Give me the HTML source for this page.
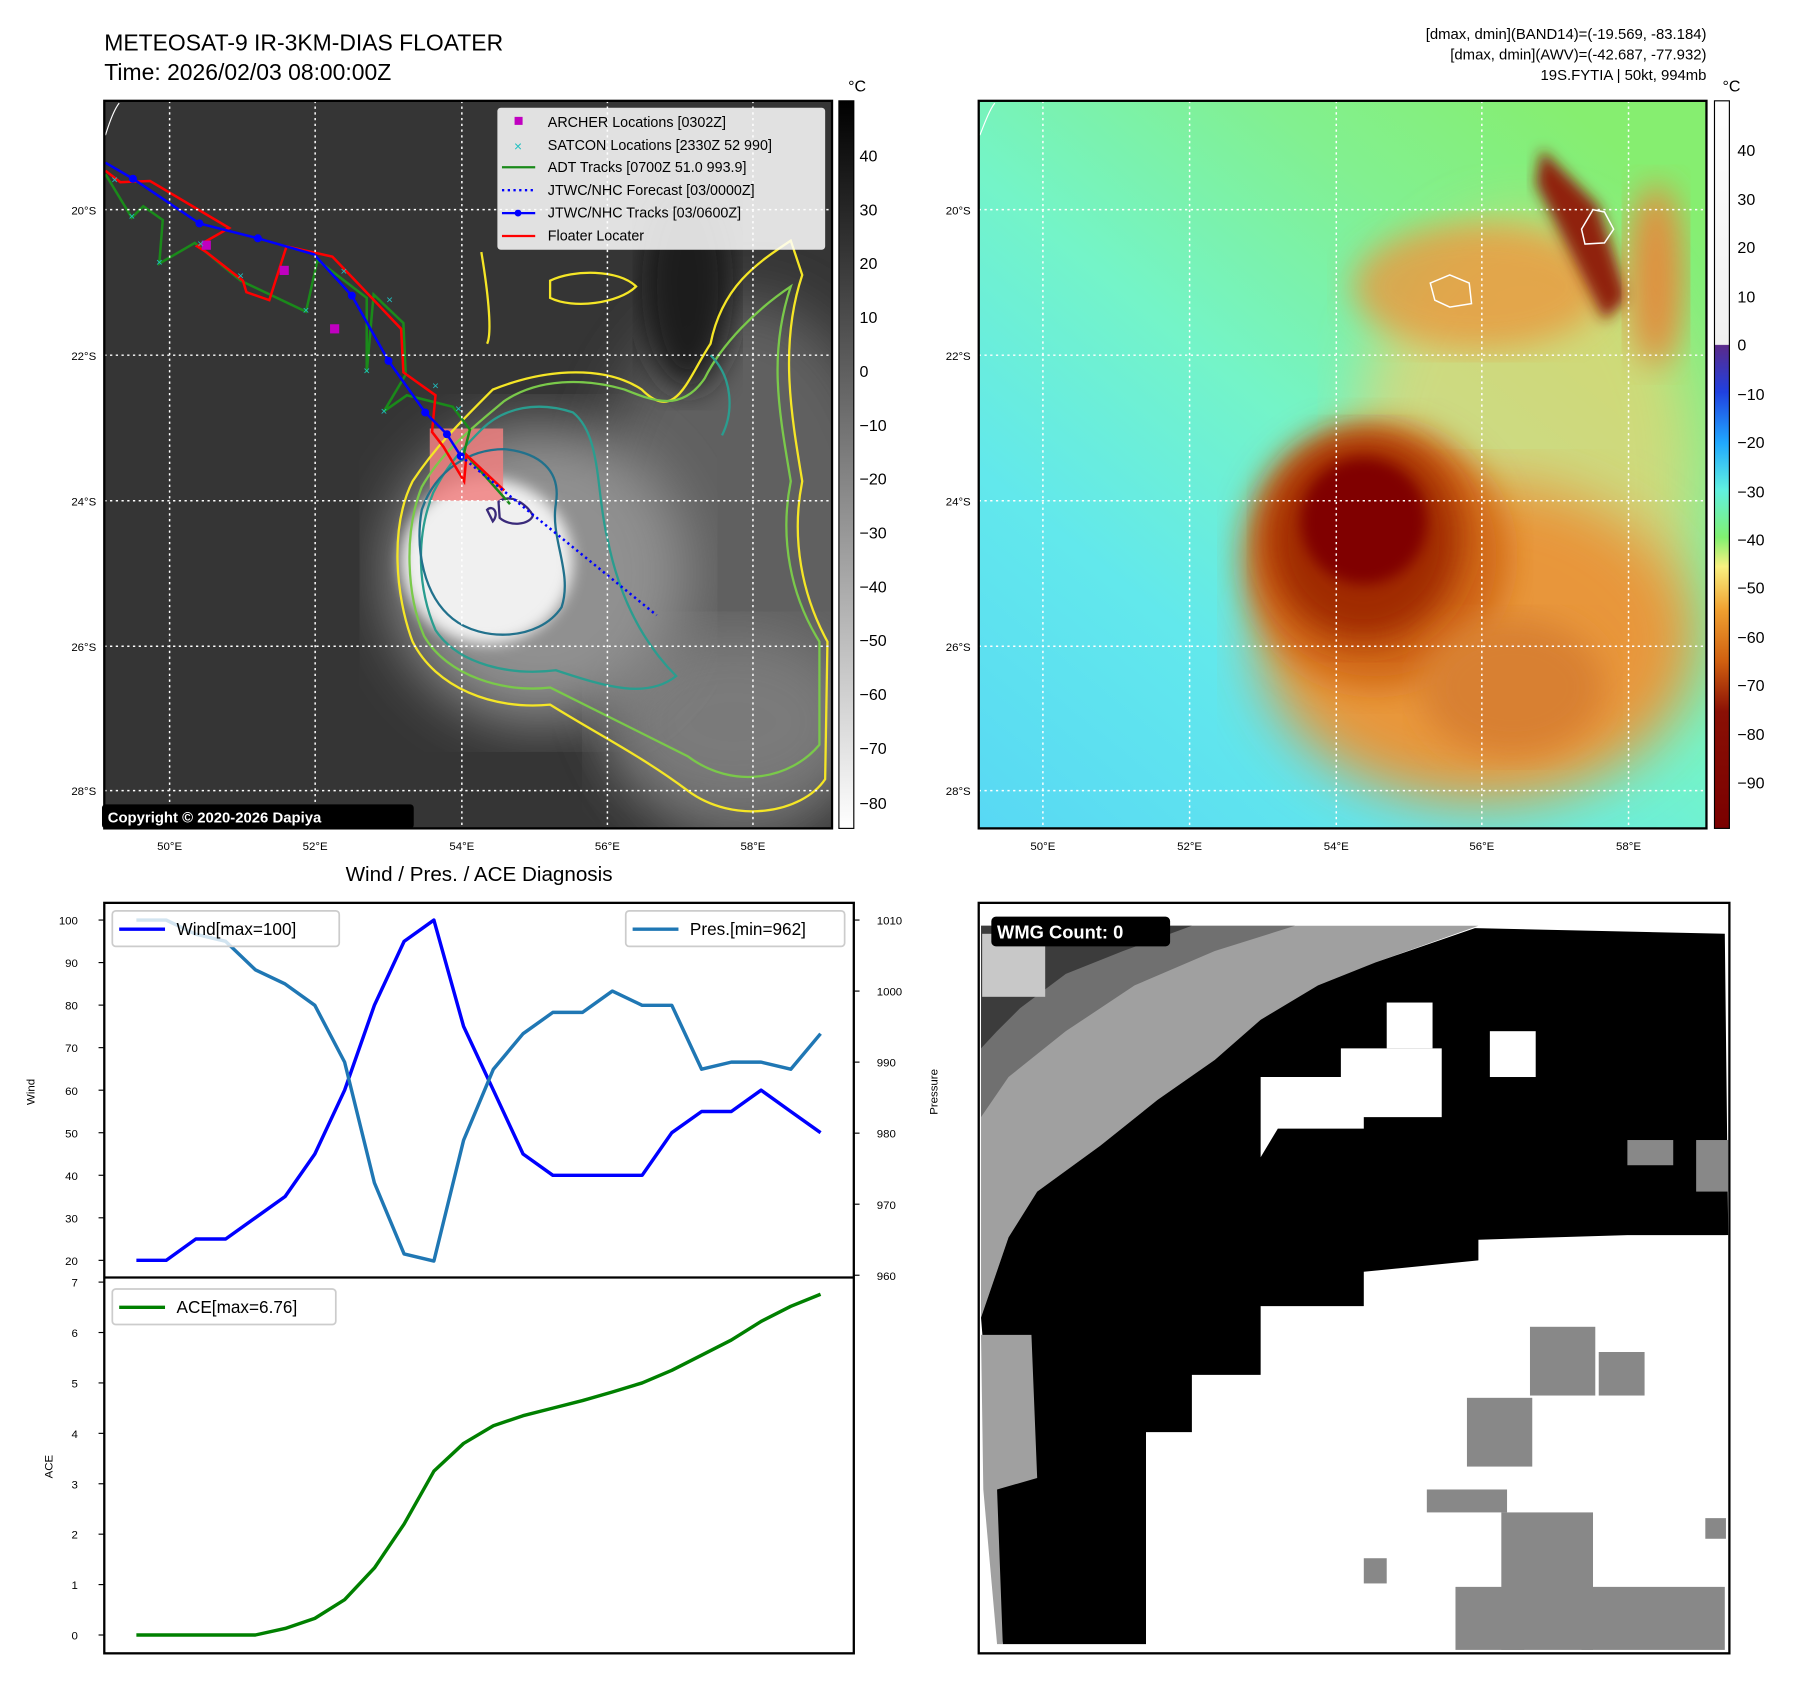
<!DOCTYPE html>
<html><head><meta charset="utf-8"><style>
html,body{margin:0;padding:0;background:#fff;}
svg{display:block;font-family:"Liberation Sans","DejaVu Sans",sans-serif;}
</style></head><body>
<svg id="fig" width="1797" height="1690" viewBox="0 0 1568 1475" preserveAspectRatio="none" xmlns="http://www.w3.org/2000/svg">
<defs>
<filter id="blur6"><feGaussianBlur stdDeviation="6"/></filter>
<filter id="blur14"><feGaussianBlur stdDeviation="14"/></filter>
<filter id="blur25"><feGaussianBlur stdDeviation="25"/></filter>
<clipPath id="clipL"><rect x="91" y="88" width="635" height="635"/></clipPath>
<clipPath id="clipR"><rect x="854" y="88" width="635" height="635"/></clipPath>
<linearGradient id="cbL" x1="0" y1="0" x2="0" y2="1"><stop offset="0" stop-color="#000"/><stop offset="1" stop-color="#fff"/></linearGradient>
<linearGradient id="cbR" x1="0" y1="0" x2="0" y2="1">
<stop offset="0" stop-color="#ffffff"/><stop offset="0.335" stop-color="#f0f0f0"/>
<stop offset="0.336" stop-color="#5a2a8a"/><stop offset="0.40" stop-color="#2040e0"/>
<stop offset="0.47" stop-color="#20a8ff"/><stop offset="0.535" stop-color="#60f0e0"/>
<stop offset="0.60" stop-color="#80f070"/><stop offset="0.64" stop-color="#f8f080"/>
<stop offset="0.70" stop-color="#f0a030"/><stop offset="0.77" stop-color="#d06010"/>
<stop offset="0.84" stop-color="#8a1005"/><stop offset="1" stop-color="#7a0000"/></linearGradient>
<linearGradient id="bgR" x1="0" y1="1" x2="0.8" y2="0">
<stop offset="0" stop-color="#58d8f4"/><stop offset="0.3" stop-color="#62e8ec"/><stop offset="0.55" stop-color="#74f4c8"/><stop offset="0.8" stop-color="#82f090"/><stop offset="1" stop-color="#86ee70"/></linearGradient>
</defs>

<!-- Left panel -->
<text x="91" y="44" font-size="20">METEOSAT-9 IR-3KM-DIAS FLOATER</text>
<text x="91" y="70" font-size="20">Time: 2026/02/03 08:00:00Z</text>
<g clip-path="url(#clipL)">
<rect x="91" y="88" width="635" height="635" fill="#353535"/>
<ellipse cx="650" cy="500" rx="140" ry="240" fill="#606060" filter="url(#blur25)"/>
<ellipse cx="600" cy="250" rx="40" ry="90" fill="#1e1e1e" filter="url(#blur14)"/>
<ellipse cx="640" cy="630" rx="110" ry="80" fill="#7a7a7a" filter="url(#blur25)"/>
<ellipse cx="470" cy="500" rx="130" ry="130" fill="#909090" filter="url(#blur25)"/>
<ellipse cx="425" cy="490" rx="75" ry="72" fill="#f0f0f0" filter="url(#blur6)"/>
<rect x="375" y="374" width="64" height="63" fill="#f08080" opacity="0.85"/>
<g fill="none" stroke-width="2">
<path d="M360,420 C340,460 345,520 360,560 C380,600 430,620 480,615 C520,640 560,660 600,690 C640,720 700,710 720,680 L722,560 C700,520 690,470 700,420 C690,360 680,300 700,240 L690,210 C660,230 630,250 620,300 C600,330 590,370 560,340 C530,320 480,320 430,340 C400,370 380,390 360,420 Z" stroke="#f5e626"/>
<path d="M368,425 C352,465 355,520 370,555 C390,590 440,605 480,600 C520,620 560,640 600,660 C640,690 690,680 715,650 L715,560 C690,520 680,470 690,420 C680,360 670,310 690,250 C660,270 630,300 615,330 C595,360 570,350 545,340 C510,330 470,330 440,350 C410,375 385,395 368,425 Z" stroke="#7ac94a"/>
<path d="M378,430 C362,470 365,515 380,550 C400,580 445,590 485,585 C530,600 565,610 590,590 C560,560 540,520 530,470 C520,430 525,380 500,360 C470,350 440,355 420,375 C400,395 388,410 378,430 Z" stroke="#2a9d8f"/>
<path d="M368,445 C362,480 370,520 395,540 C420,560 470,560 490,530 C500,500 480,470 485,440 C490,410 470,395 440,392 C410,392 380,410 368,445 Z" stroke="#21718c"/>
<path d="M435,438 C445,430 460,440 465,450 C462,458 445,460 436,452 Z M425,445 C430,440 436,448 430,455 Z" stroke="#3a2a7a"/>
<path d="M480,245 C500,235 540,235 555,250 C540,265 500,270 480,260 Z" stroke="#f5e626"/>
<path d="M420,220 C425,250 430,290 425,300" stroke="#f5e626"/>
<path d="M620,310 C640,330 640,360 630,380" stroke="#2a9d8f"/>
</g>
<g fill="none" stroke-width="2.2">
<polyline points="92,152 115,190 125,180 142,192 139,230 170,212 210,245 267,272 277,227 320,260 320,325 326,257 352,282 354,327 335,359 355,345 395,355 410,375 405,395 445,440" stroke="#1a8a1a"/>
<polyline points="92,149 105,159 131,158 200,199 172,215 180,220 212,245 215,255 235,262 250,215 290,224 312,247 350,287 352,325 380,345 377,377 387,390 405,420 407,397 425,414 440,428" stroke="#ff0000"/>
<polyline points="92,142 116,156 174,195 225,208 274,222 307,258 339,315 371,360 390,379 402,398" stroke="#0000ff"/>
<polyline points="402,398 573,537" stroke="#0000ff" stroke-dasharray="2,3"/>
</g>
<g fill="#0000ff"><circle cx="116" cy="156" r="3.5"/><circle cx="174" cy="195" r="3.5"/><circle cx="225" cy="208" r="3.5"/><circle cx="307" cy="258" r="3.5"/><circle cx="339" cy="315" r="3.5"/><circle cx="371" cy="360" r="3.5"/><circle cx="390" cy="379" r="3.5"/><circle cx="402" cy="398" r="3.5"/></g>
<g fill="#c000c0"><rect x="176" y="210" width="8" height="8"/><rect x="244" y="232" width="8" height="8"/><rect x="288" y="283" width="8" height="8"/></g>
<g fill="#20c0c0" font-size="10" text-anchor="middle">
<text x="100" y="160">×</text><text x="115" y="192">×</text><text x="139" y="232">×</text><text x="175" y="216">×</text><text x="210" y="244">×</text><text x="267" y="274">×</text><text x="300" y="240">×</text><text x="320" y="327">×</text><text x="335" y="362">×</text><text x="340" y="265">×</text><text x="380" y="340">×</text><text x="400" y="360">×</text>
</g>
<g stroke="#fff" stroke-width="1.3" stroke-dasharray="2,3" fill="none">
<line x1="148" y1="88" x2="148" y2="723"/><line x1="275" y1="88" x2="275" y2="723"/><line x1="403" y1="88" x2="403" y2="723"/><line x1="530" y1="88" x2="530" y2="723"/><line x1="657" y1="88" x2="657" y2="723"/>
<line x1="91" y1="183" x2="726" y2="183"/><line x1="91" y1="310" x2="726" y2="310"/><line x1="91" y1="437" x2="726" y2="437"/><line x1="91" y1="564" x2="726" y2="564"/><line x1="91" y1="690" x2="726" y2="690"/>
</g>
<path d="M92,118 C96,105 100,95 104,90" stroke="#fff" fill="none"/>
</g>
<rect x="91" y="88" width="635" height="635" fill="none" stroke="#000" stroke-width="2"/>
<g>
<rect x="434" y="94" width="286" height="124" fill="#fff" opacity="0.85" rx="3"/>
<g font-size="12.5" fill="#000">
<rect x="449" y="102" width="7" height="7" fill="#c000c0"/><text x="478" y="111">ARCHER Locations [0302Z]</text>
<text x="452" y="132" fill="#20c0c0" text-anchor="middle" font-size="12">×</text><text x="478" y="131">SATCON Locations [2330Z 52 990]</text>
<line x1="438" y1="146" x2="467" y2="146" stroke="#1a8a1a" stroke-width="2"/><text x="478" y="150">ADT Tracks [0700Z 51.0 993.9]</text>
<line x1="438" y1="166" x2="467" y2="166" stroke="#0000ff" stroke-width="2" stroke-dasharray="2,3"/><text x="478" y="170">JTWC/NHC Forecast [03/0000Z]</text>
<line x1="438" y1="186" x2="467" y2="186" stroke="#0000ff" stroke-width="2"/><circle cx="452" cy="186" r="3" fill="#0000ff"/><text x="478" y="190">JTWC/NHC Tracks [03/0600Z]</text>
<line x1="438" y1="206" x2="467" y2="206" stroke="#ff0000" stroke-width="2"/><text x="478" y="210">Floater Locater</text>
</g></g>
<rect x="89" y="702" width="272" height="21" fill="#000" rx="3"/>
<text x="94" y="718" font-size="13" font-weight="bold" fill="#fff">Copyright © 2020-2026 Dapiya</text>
<g font-size="10" fill="#000">
<text x="148" y="742" text-anchor="middle">50°E</text><text x="275" y="742" text-anchor="middle">52°E</text><text x="403" y="742" text-anchor="middle">54°E</text><text x="530" y="742" text-anchor="middle">56°E</text><text x="657" y="742" text-anchor="middle">58°E</text>
<text x="84" y="187" text-anchor="end">20°S</text><text x="84" y="314" text-anchor="end">22°S</text><text x="84" y="441" text-anchor="end">24°S</text><text x="84" y="568" text-anchor="end">26°S</text><text x="84" y="694" text-anchor="end">28°S</text>
</g>
<rect x="732" y="88" width="13" height="635" fill="url(#cbL)" stroke="#000"/>
<text x="740" y="80" font-size="14">°C</text>
<g font-size="14" fill="#000"><text x="750" y="141">40</text><text x="750" y="188">30</text><text x="750" y="235">20</text><text x="750" y="282">10</text><text x="750" y="329">0</text><text x="750" y="376">−10</text><text x="750" y="423">−20</text><text x="750" y="470">−30</text><text x="750" y="517">−40</text><text x="750" y="564">−50</text><text x="750" y="611">−60</text><text x="750" y="658">−70</text><text x="750" y="706">−80</text></g>

<!-- Right panel -->
<g font-size="13" text-anchor="end" fill="#000">
<text x="1489" y="34">[dmax, dmin](BAND14)=(-19.569, -83.184)</text>
<text x="1489" y="52">[dmax, dmin](AWV)=(-42.687, -77.932)</text>
<text x="1489" y="70">19S.FYTIA | 50kt, 994mb</text></g>
<g clip-path="url(#clipR)">
<rect x="854" y="88" width="635" height="635" fill="url(#bgR)"/>
<ellipse cx="1330" cy="420" rx="150" ry="230" fill="#f0d070" opacity="0.7" filter="url(#blur25)"/>
<ellipse cx="1290" cy="250" rx="110" ry="55" fill="#e89a40" opacity="0.8" filter="url(#blur14)"/>
<ellipse cx="1290" cy="560" rx="190" ry="140" fill="#e8963a" filter="url(#blur25)"/>
<ellipse cx="1200" cy="485" rx="115" ry="115" fill="#d06818" filter="url(#blur14)"/>
<ellipse cx="1190" cy="470" rx="85" ry="90" fill="#a02a00" filter="url(#blur14)"/>
<ellipse cx="1190" cy="455" rx="55" ry="55" fill="#800000" filter="url(#blur6)"/>
<ellipse cx="1320" cy="600" rx="80" ry="60" fill="#d88030" filter="url(#blur14)"/>
<path d="M1345,130 L1395,180 L1420,260 L1400,280 L1375,230 L1340,160 Z" fill="#902010" filter="url(#blur6)"/>
<ellipse cx="1445" cy="240" rx="25" ry="80" fill="#e09040" filter="url(#blur14)"/>
<g stroke="#fff" stroke-width="1.3" stroke-dasharray="2,3" fill="none">
<line x1="910" y1="88" x2="910" y2="723"/><line x1="1038" y1="88" x2="1038" y2="723"/><line x1="1166" y1="88" x2="1166" y2="723"/><line x1="1293" y1="88" x2="1293" y2="723"/><line x1="1421" y1="88" x2="1421" y2="723"/>
<line x1="854" y1="183" x2="1489" y2="183"/><line x1="854" y1="310" x2="1489" y2="310"/><line x1="854" y1="437" x2="1489" y2="437"/><line x1="854" y1="564" x2="1489" y2="564"/><line x1="854" y1="690" x2="1489" y2="690"/>
</g>
<path d="M1248,247 L1265,240 L1282,247 L1284,265 L1265,268 L1252,262 Z" stroke="#fff" stroke-width="1.3" fill="none"/>
<path d="M1380,200 L1390,183 L1400,185 L1408,200 L1400,212 L1383,213 Z" stroke="#fff" stroke-width="1.3" fill="none"/>
<path d="M855,118 C860,105 864,95 868,90" stroke="#fff" fill="none"/>
</g>
<rect x="854" y="88" width="635" height="635" fill="none" stroke="#000" stroke-width="2"/>
<g font-size="10" fill="#000">
<text x="910" y="742" text-anchor="middle">50°E</text><text x="1038" y="742" text-anchor="middle">52°E</text><text x="1166" y="742" text-anchor="middle">54°E</text><text x="1293" y="742" text-anchor="middle">56°E</text><text x="1421" y="742" text-anchor="middle">58°E</text>
<text x="847" y="187" text-anchor="end">20°S</text><text x="847" y="314" text-anchor="end">22°S</text><text x="847" y="441" text-anchor="end">24°S</text><text x="847" y="568" text-anchor="end">26°S</text><text x="847" y="694" text-anchor="end">28°S</text></g>
<rect x="1496" y="88" width="13" height="635" fill="url(#cbR)" stroke="#000"/>
<text x="1503" y="80" font-size="14">°C</text>
<g font-size="14"><text x="1516" y="136">40</text><text x="1516" y="179">30</text><text x="1516" y="221">20</text><text x="1516" y="264">10</text><text x="1516" y="306">0</text><text x="1516" y="349">−10</text><text x="1516" y="391">−20</text><text x="1516" y="434">−30</text><text x="1516" y="476">−40</text><text x="1516" y="518">−50</text><text x="1516" y="561">−60</text><text x="1516" y="603">−70</text><text x="1516" y="646">−80</text><text x="1516" y="688">−90</text></g>

<!-- Diagnosis chart -->
<text x="418" y="769" font-size="18" text-anchor="middle">Wind / Pres. / ACE Diagnosis</text>
<g id="chart"></g>
<rect x="91" y="788" width="654" height="655" fill="none" stroke="#000" stroke-width="2"/>
<line x1="91" y1="1115" x2="745" y2="1115" stroke="#000" stroke-width="2"/>
<text transform="translate(30,953) rotate(-90)" font-size="10" text-anchor="middle">Wind</text>
<text transform="translate(818,953) rotate(-90)" font-size="10" text-anchor="middle">Pressure</text>
<text transform="translate(46,1280) rotate(-90)" font-size="10" text-anchor="middle">ACE</text>

<!-- WMG panel -->
<g>
<rect x="854" y="788" width="655" height="655" fill="#fff"/>
<polygon fill="#a0a0a0" points="856,808 1290,808 1200,840 1150,860 1100,890 1060,925 1010,960 960,1000 905,1040 880,1080 856,1150"/>
<polygon fill="#707070" points="856,808 1130,808 1060,830 990,860 930,900 880,940 856,975"/>
<polygon fill="#3c3c3c" points="856,808 1040,808 980,830 930,850 890,880 870,900 856,915"/>
<rect x="857" y="815" width="55" height="55" fill="#c8c8c8"/>
<polygon fill="#000" points="1287,810 1505,815 1508,1078 1420,1078 1290,1082 1290,1100 1190,1110 1190,1140 1100,1140 1100,1200 1040,1200 1040,1250 1000,1250 1000,1435 875,1435 870,1380 860,1200 856,1150 880,1080 905,1040 960,1000 1010,960 1060,925 1100,890 1150,860 1200,840"/>
<polygon fill="#a0a0a0" points="856,1165 900,1165 905,1290 870,1300 875,1435 870,1435 858,1300"/>
<polygon fill="#fff" points="1100,940 1170,940 1170,915 1258,915 1258,975 1190,975 1190,985 1115,985 1100,1010"/>
<rect x="1210" y="875" width="40" height="40" fill="#fff"/>
<rect x="1300" y="900" width="40" height="40" fill="#fff"/>
<polygon fill="#fff" points="1508,1078 1290,1100 1190,1140 1190,1180 1100,1200 1040,1250 1000,1250 1000,1440 1508,1440"/>
<g fill="#888"><rect x="1420" y="995" width="40" height="22"/><rect x="1480" y="995" width="28" height="45"/><rect x="1335" y="1158" width="57" height="60"/><rect x="1280" y="1220" width="57" height="60"/><rect x="1245" y="1300" width="70" height="20"/><rect x="1310" y="1320" width="80" height="120"/><rect x="1270" y="1385" width="60" height="55"/><rect x="1380" y="1385" width="125" height="55"/><rect x="1190" y="1360" width="20" height="22"/><rect x="1488" y="1325" width="18" height="18"/><rect x="1395" y="1180" width="40" height="38"/></g>
</g>
<rect x="854" y="788" width="655" height="655" fill="none" stroke="#000" stroke-width="2"/>
<rect x="865" y="800" width="156" height="26" rx="4" fill="#000"/>
<text x="870" y="819" font-size="16" font-weight="bold" fill="#fff">WMG Count: 0</text>

<script>
var windVals=[20,20,25,25,30,35,45,60,80,95,100,75,60,45,40,40,40,40,50,55,55,60,55,50];
var presVals=[1010,1010,1008,1007,1003,1001,998,990,973,963,962,979,989,994,997,997,1000,998,998,989,990,990,989,994];
var aceVals=[0,0,0,0,0,0.13,0.33,0.7,1.33,2.2,3.25,3.8,4.15,4.35,4.5,4.65,4.82,5.0,5.25,5.55,5.85,6.22,6.52,6.76];
var windTicks=[20,30,40,50,60,70,80,90,100];
var presTicks=[960,970,980,990,1000,1010];
var aceTicks=[0,1,2,3,4,5,6,7];
var NS='http://www.w3.org/2000/svg';
var g=document.getElementById('chart');
function xS(i){return 119+i*(716-119)/(windVals.length-1);}
function yW(v){return 1100+(v-20)*(803-1100)/80;}
function yP(v){return 1113+(v-960)*(803-1113)/50;}
function yA(v){return 1427+v*(1119-1427)/7;}
function mk(tag,attrs){var e=document.createElementNS(NS,tag);for(var k in attrs)e.setAttribute(k,attrs[k]);g.appendChild(e);return e;}
function line(vals,yf,color,name){
  var d=vals.map(function(v,i){return (i?'L':'M')+xS(i).toFixed(1)+','+yf(v).toFixed(1);}).join(' ');
  var p=mk('path',{d:d,fill:'none',stroke:color,'stroke-width':3,'stroke-linejoin':'round'});
  
  
}
function ticks(arr,yf,side){
  arr.forEach(function(v){
    var y=yf(v);
    if(side==='L'){mk('line',{x1:86,y1:y,x2:91,y2:y,stroke:'#000'});
      var t=mk('text',{x:68,y:y+4,'font-size':10,'text-anchor':'end'});t.textContent=v;}
    else{mk('line',{x1:745,y1:y,x2:750,y2:y,stroke:'#000'});
      var t2=mk('text',{x:765,y:y+4,'font-size':10});t2.textContent=v;}
  });
}
ticks(windTicks,yW,'L');ticks(presTicks,yP,'R');ticks(aceTicks,yA,'L');
line(windVals,yW,'#0000ff','wind-line');
line(presVals,yP,'#1f77b4','pressure-line');
line(aceVals,yA,'#008000','ace-line');
function legend(x,y,w,color,label,name){
  var r=mk('rect',{x:x,y:y,width:w,height:31,rx:3,fill:'#fff','fill-opacity':0.8,stroke:'#ccc','stroke-width':1.5});
  
  
  mk('line',{x1:x+6,y1:y+16,x2:x+46,y2:y+16,stroke:color,'stroke-width':3});
  var t=mk('text',{x:x+56,y:y+21,'font-size':15});t.textContent=label;
}
legend(98,795,198,'#0000ff','Wind[max=100]','wind-legend');
legend(546,795,191,'#1f77b4','Pres.[min=962]','pressure-legend');
legend(98,1125,195,'#008000','ACE[max=6.76]','ace-legend');
</script>
</svg>
</body></html>
